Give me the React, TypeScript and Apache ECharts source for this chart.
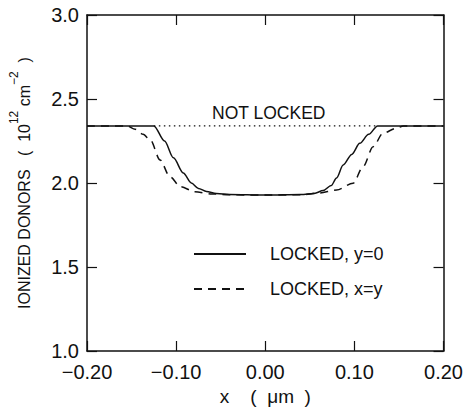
import React, { useEffect, useRef } from "react";
import * as echarts from "echarts";

const solidX = [-0.2, -0.125, -0.113, -0.103, -0.092, -0.083, -0.075, -0.066, -0.055, -0.04, 0, 0.04, 0.055, 0.065, 0.074, 0.08, 0.0874, 0.097, 0.106, 0.116, 0.126, 0.2];
const solidY = [2.34, 2.34, 2.25, 2.15, 2.06, 2.0, 1.968, 1.95, 1.937, 1.932, 1.928, 1.932, 1.938, 1.955, 1.985, 2.03, 2.107, 2.17, 2.236, 2.29, 2.34, 2.34];
const dashX = [-0.2, -0.155, -0.146, -0.137, -0.129, -0.118, -0.107, -0.095, -0.079, -0.06, -0.04, 0, 0.04, 0.06, 0.08, 0.0985, 0.1097, 0.121, 0.132, 0.147, 0.155, 0.2];
const dashY = [2.34, 2.34, 2.32, 2.29, 2.256, 2.137, 2.037, 1.978, 1.948, 1.935, 1.93, 1.928, 1.93, 1.94, 1.958, 1.998, 2.097, 2.216, 2.296, 2.326, 2.34, 2.34];
const notLockedX = [-0.125, 0.126];
const notLockedY = [2.34, 2.34];
const seriesNames = ["LOCKED, y=0", "LOCKED, x=y", "NOT LOCKED"];

const FONT = "'Liberation Sans', Arial, sans-serif";
const INK = "#111";

const zip = (xs: number[], ys: number[]) => xs.map((x, i) => [x, ys[i]]);

export default function App() {
  const ref = useRef<HTMLDivElement>(null);
  useEffect(() => {
    if (!ref.current) return;
    const chart = echarts.init(ref.current, undefined, { renderer: "svg" });
    const axisLine = { show: true, onZero: false, lineStyle: { color: INK, width: 1.5 } };
    const axisTick = { show: true, inside: true, length: 10, lineStyle: { color: INK, width: 1.2 } };
    chart.setOption({
      animation: false,
      backgroundColor: "#fff",
      grid: { left: 86, right: 22, top: 15, bottom: 61, containLabel: false },
      legend: {
        orient: "vertical",
        left: 193,
        top: 245,
        padding: 0,
        itemWidth: 52,
        itemHeight: 14,
        itemGap: 17,
        data: [seriesNames[0], seriesNames[1]],
        itemStyle: { opacity: 0 },
        textStyle: { color: INK, fontFamily: FONT, fontSize: 18, padding: [0, 0, 0, 19] },
      },
      graphic: [
        {
          type: "text",
          left: 212,
          top: 104,
          style: { text: "NOT LOCKED", fontFamily: FONT, fontSize: 17.5, fill: INK },
        },
      ],
      xAxis: [
        {
          type: "value",
          min: -0.2,
          max: 0.2,
          interval: 0.1,
          position: "bottom",
          axisLine,
          axisTick,
          splitLine: { show: false },
          axisLabel: {
            color: INK,
            fontFamily: FONT,
            fontSize: 20,
            margin: 11,
            formatter: (v: number) => (v < -1e-9 ? "\u2212" : "") + Math.abs(v).toFixed(2),
          },
          name: "x    (  \u03bcm  )",
          nameLocation: "middle",
          nameGap: 36,
          nameTextStyle: { color: INK, fontFamily: FONT, fontSize: 19 },
        },
        {
          type: "value",
          min: -0.2,
          max: 0.2,
          interval: 0.1,
          position: "top",
          axisLine,
          axisTick,
          axisLabel: { show: false },
          splitLine: { show: false },
        },
      ],
      yAxis: [
        {
          type: "value",
          min: 1,
          max: 3,
          interval: 0.5,
          position: "left",
          axisLine,
          axisTick,
          splitLine: { show: false },
          axisLabel: {
            color: INK,
            fontFamily: FONT,
            fontSize: 20,
            margin: 8,
            padding: [0, 0, 4, 0],
            formatter: (v: number) => v.toFixed(1),
          },
          name: "{n|IONIZED DONORS   (  10}{s|12}{n| cm}{s|\u22122}{n|  )}",
          nameLocation: "middle",
          nameRotate: 90,
          nameGap: 55,
          nameTextStyle: {
            color: INK,
            fontFamily: FONT,
            rich: {
              n: { fontSize: 16, fontFamily: FONT, color: INK, lineHeight: 24, verticalAlign: "bottom" },
              s: { fontSize: 12, fontFamily: FONT, color: INK, lineHeight: 24, verticalAlign: "top" },
            },
          },
        },
        {
          type: "value",
          min: 1,
          max: 3,
          interval: 0.5,
          position: "right",
          axisLine,
          axisTick,
          axisLabel: { show: false },
          splitLine: { show: false },
        },
      ],
      series: [
        {
          name: seriesNames[0],
          type: "line",
          data: zip(solidX, solidY),
          symbol: "none",
          smooth: 0.3,
          smoothMonotone: "x",
          lineStyle: { color: INK, width: 1.5, type: "solid" },
          itemStyle: { color: INK },
        },
        {
          name: seriesNames[1],
          type: "line",
          data: zip(dashX, dashY),
          symbol: "none",
          smooth: 0.3,
          smoothMonotone: "x",
          lineStyle: { color: INK, width: 1.5, type: [8, 6] },
          itemStyle: { color: INK },
        },
        {
          name: seriesNames[2],
          type: "line",
          data: zip(notLockedX, notLockedY),
          symbol: "none",
          lineStyle: { color: INK, width: 1.2, type: [1.5, 3.5] },
          itemStyle: { color: INK },
        },
      ],
    });
    return () => chart.dispose();
  }, []);
  return <div ref={ref} style={{ position: "fixed", left: 0, top: 0, width: 466, height: 412 }} />;
}
